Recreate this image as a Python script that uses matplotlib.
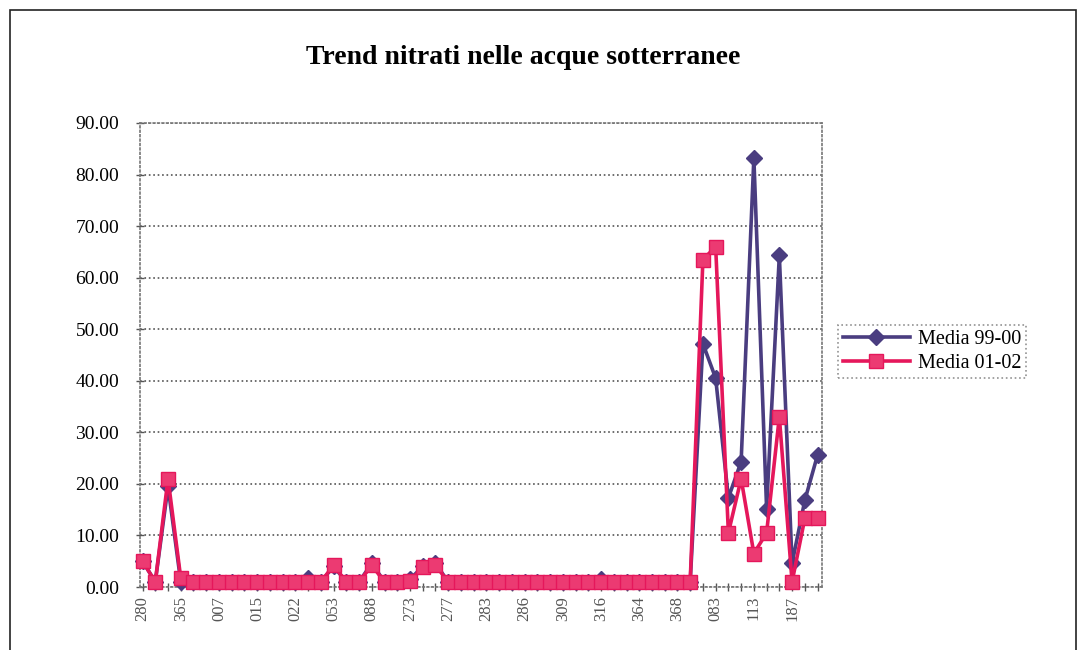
import numpy as np
import matplotlib.pyplot as plt
from matplotlib.patches import Rectangle

# DATI

# codici pozzi (visibili solo uno ogni tre)
etichette = ['280', '365', '007', '015', '022', '053', '088', '273', '277',
             '283', '286', '309', '316', '364', '368', '083', '113', '187']

media_99_00 = [5, 1, 19.5, 1, 1, 1, 1, 1, 1, 1,
               1, 1, 1, 1.8, 1, 4, 1, 1, 4.6, 1,
               1, 1.5, 4, 4.6, 1, 1, 1, 1, 1, 1,
               1, 1, 1, 1, 1, 1, 1.5, 1, 1, 1,
               1, 1, 1, 1, 47.2, 40.5, 17.3, 24.3, 83.2, 15.2,
               64.3, 4.6, 16.8, 25.6]

media_01_02 = [5, 1, 21, 1.7, 1, 1, 1, 1, 1, 1,
               1, 1, 1, 1, 1, 4.2, 1, 1, 4.2, 1,
               1, 1.2, 3.8, 4.2, 1, 1, 1, 1, 1, 1,
               1, 1, 1, 1, 1, 1, 1, 1, 1, 1,
               1, 1, 1, 1, 63.5, 66, 10.5, 21, 6.5, 10.5,
               33, 1, 13.3, 13.3]

n = len(media_99_00)
x = np.arange(n)
tick_lab = []
for i in range(n):
    if i % 3 == 0:
        tick_lab.append(etichette[i // 3])
    else:
        tick_lab.append('')

plt.rcParams['font.family'] = ['Liberation Serif', 'DejaVu Serif']

# GRAFICO

fig = plt.figure(figsize=(10.82, 6.5), dpi=100)
ax = fig.add_axes([0.1294, 0.0969, 0.6303, 0.7139])

ax.plot(x, media_99_00, color='#4a3d80', lw=2.6, marker='D', ms=8.5,
        mec='#4a3d80', mfc='#4a3d80', label='Media 99-00', zorder=3,
        clip_on=False)
ax.plot(x, media_01_02, color='#e5175b', lw=2.6, marker='s', ms=9.5,
        mec='#e5175b', mfc='#ec3a72', label='Media 01-02', zorder=4,
        clip_on=False)

ax.set_xlim(-0.2, n - 1 + 0.35)
ax.set_ylim(0, 90)
ax.set_yticks(np.arange(0, 91, 10))
ax.set_yticklabels(['%.2f' % v for v in np.arange(0, 91, 10)], fontsize=14)
ax.set_xticks(x)
ax.set_xticklabels(tick_lab, rotation=90, fontsize=12, color='#555555')
ax.tick_params(axis='both', direction='inout', length=6, width=1, color='#555555')
ax.tick_params(axis='y', pad=12)

ax.grid(axis='y', color='#555555', linestyle=':', linewidth=1.2)
ax.set_axisbelow(True)
for s in ax.spines.values():
    s.set_color('#777777')
    s.set_linestyle(':')
    s.set_linewidth(1.2)

fig.text(0.4834, 0.912, 'Trend nitrati nelle acque sotterranee',
         ha='center', va='center', fontsize=20, fontweight='bold')

leg = fig.legend(loc='upper left', bbox_to_anchor=(0.7745, 0.5), fontsize=14.5,
                 frameon=True, fancybox=False, handlelength=3.3,
                 borderpad=0.25, labelspacing=0.25, handletextpad=0.4,
                 borderaxespad=0)
leg.get_frame().set_edgecolor('#777777')
leg.get_frame().set_linestyle(':')
leg.get_frame().set_linewidth(1.2)

# bordo esterno
fig.patches.append(Rectangle((10 / 1082, -0.05), 1066 / 1082, 1.05 - 10 / 650,
                             transform=fig.transFigure, fill=False,
                             edgecolor='#222222', lw=1.2))

plt.savefig('out.png', dpi=100)
